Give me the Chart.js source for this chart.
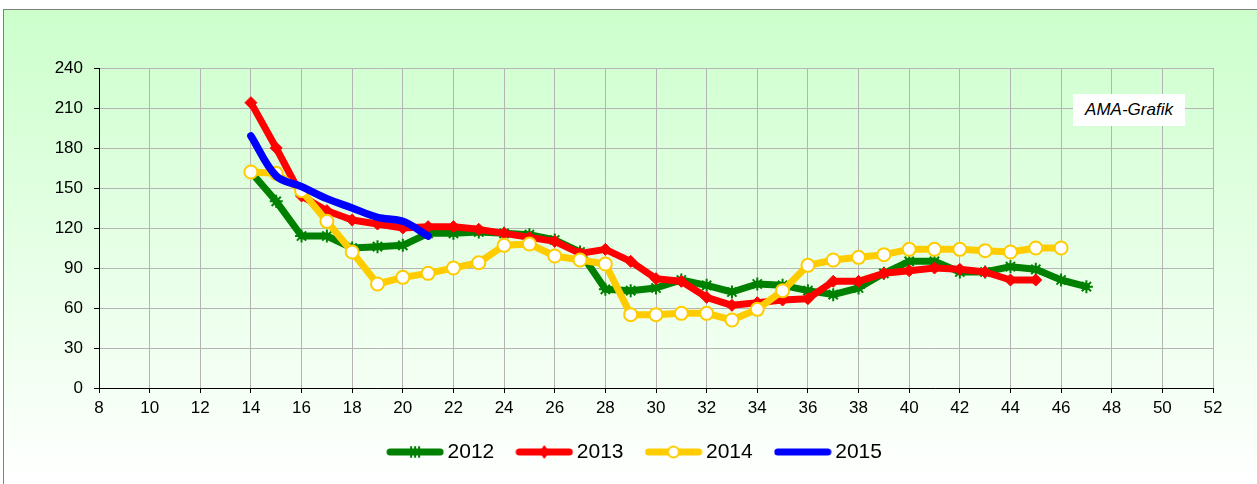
<!DOCTYPE html>
<html>
<head>
<meta charset="utf-8">
<script src="https://cdn.jsdelivr.net/npm/chart.js@4.4.1/dist/chart.umd.min.js"></script>
<style>
  html, body { margin: 0; padding: 0; background: #fff; }
  #wrap { position: relative; width: 1257px; height: 484px; }
  #ama {
    position: absolute; left: 1073px; top: 94px; width: 112px; height: 32px;
    background: #fff; font: italic 17px "Liberation Sans", Arial, sans-serif;
    line-height: 32px; text-align: center; color: #000;
  }
</style>
</head>
<body>
<div id="wrap">
  <canvas id="myChart"></canvas>
  <div id="ama">AMA-Grafik</div>
</div>
<script>
// calendar weeks (x) and prices per year
const weeks = [14, 15, 16, 17, 18, 19, 20, 21, 22, 23, 24, 25, 26, 27, 28, 29, 30,
               31, 32, 33, 34, 35, 36, 37, 38, 39, 40, 41, 42, 43, 44, 45, 46, 47];
const years = ['2012', '2013', '2014', '2015'];
const values2012 = [162, 140, 114, 114, 105, 106, 107, 116, 116, 117, 116, 115, 111, 102, 74, 73, 75,
                    81, 77, 72, 78, 77, 73, 70, 75, 86, 95, 95, 87, 87, 91, 89, 81, 76];
const values2013 = [214, 180, 144, 133, 126, 123, 120, 121, 121, 119, 116, 113, 110, 101, 104, 95, 82,
                    80, 68, 62, 64, 66, 67, 80, 80, 86, 88, 90, 89, 87, 81, 81];
const values2014 = [162, 161, 148, 125, 102, 78, 83, 86, 90, 94, 107, 108, 99, 96, 93, 55, 55,
                    56, 56, 51, 59, 73, 92, 96, 98, 100, 104, 104, 104, 103, 102, 105, 105];
const values2015 = [189, 159, 151, 142, 135, 128, 125, 114];
const yTicks = [0, 30, 60, 90, 120, 150, 180, 210, 240];
const xTicks = [8, 10, 12, 14, 16, 18, 20, 22, 24, 26, 28, 30, 32, 34, 36, 38, 40, 42, 44, 46, 48, 50, 52];

const green = '#008000', red = '#ff0000', yellow = '#ffcc00', blue = '#0000ff';

function points(vals) {
  return vals.map((v, i) => ({ x: weeks[i], y: v }));
}

// small legend icons: thick line with the series marker
function makeIcon(color, marker) {
  const c = document.createElement('canvas');
  c.width = 58; c.height = 16;
  const g = c.getContext('2d');
  g.strokeStyle = color; g.lineWidth = 7; g.lineCap = 'round';
  g.beginPath(); g.moveTo(4, 8); g.lineTo(54, 8); g.stroke();
  if (marker === 'star') {
    g.lineWidth = 2;
    g.beginPath();
    [-4, 0, 4].forEach(dx => { g.moveTo(29 + dx, 3); g.lineTo(29 + dx, 13); });
    g.stroke();
  } else if (marker === 'diamond') {
    g.fillStyle = color;
    g.beginPath(); g.moveTo(29, 1); g.lineTo(34, 8); g.lineTo(29, 15); g.lineTo(24, 8); g.closePath(); g.fill();
  } else if (marker === 'circle') {
    g.fillStyle = '#fff'; g.lineWidth = 2;
    g.beginPath(); g.arc(29, 8, 5.5, 0, Math.PI * 2); g.fill(); g.stroke();
  }
  return c;
}
const icons = [makeIcon(green, 'star'), makeIcon(red, 'diamond'), makeIcon(yellow, 'circle'), makeIcon(blue, null)];

const bgPlugin = {
  id: 'bg',
  beforeDraw(chart) {
    const ctx = chart.ctx;
    ctx.save();
    ctx.fillStyle = '#fff';
    ctx.fillRect(0, 0, chart.width, chart.height);
    const grad = ctx.createLinearGradient(0, 9, 0, chart.height);
    grad.addColorStop(0, '#ccffcc');
    grad.addColorStop(1, '#ffffff');
    ctx.fillStyle = grad;
    ctx.fillRect(3, 9, chart.width - 3, chart.height - 9);
    ctx.strokeStyle = '#808080';
    ctx.lineWidth = 1;
    ctx.strokeRect(3.5, 9.5, chart.width + 5, chart.height + 5);
    ctx.restore();
  },
  afterLayout(chart) {
    // nudge legend to its place under the plot
    chart.legend.left += 31;
    chart.legend.right += 31;
  }
};

const ctx = document.getElementById('myChart').getContext('2d');
const lineBase = { borderWidth: 7, borderCapStyle: 'round', borderJoinStyle: 'round', tension: 0, pointRadius: 6 };
const myChart = new Chart(ctx, {
  type: 'line',
  data: {
    datasets: [
      Object.assign({}, lineBase, {
        label: years[0], data: points(values2012), borderColor: green, backgroundColor: green,
        pointStyle: 'star', pointRadius: 6.5, pointBorderWidth: 2, pointBorderColor: green, order: 4
      }),
      Object.assign({}, lineBase, {
        label: years[1], data: points(values2013), borderColor: red, backgroundColor: red,
        pointStyle: 'rectRot', pointRadius: 6, pointBorderWidth: 1, pointBackgroundColor: red, order: 3
      }),
      Object.assign({}, lineBase, {
        label: years[2], data: points(values2014), borderColor: yellow, backgroundColor: '#fff',
        pointStyle: 'circle', pointRadius: 6.5, pointBorderWidth: 2, pointBackgroundColor: '#fff', order: 2
      }),
      Object.assign({}, lineBase, {
        label: years[3], data: points(values2015), borderColor: blue, backgroundColor: blue,
        borderWidth: 7.5, pointRadius: 0, tension: 0.35, cubicInterpolationMode: 'default', order: 1
      })
    ]
  },
  options: {
    responsive: true,
    maintainAspectRatio: false,
    animation: false,
    layout: { padding: { top: 68, right: 44, bottom: 11.5, left: 0 } },
    scales: {
      x: {
        type: 'linear', min: 8, max: 52,
        afterBuildTicks: s => { s.ticks = xTicks.map(v => ({ value: v })); },
        afterFit: s => { s.height = 25.5; },
        ticks: { color: '#000', padding: 5, font: { family: 'Liberation Sans, Arial', size: 17 } },
        grid: { color: '#b4b4b4', tickColor: '#000', tickLength: 5 },
        border: { color: '#000', width: 1 }
      },
      y: {
        min: 0, max: 240,
        afterBuildTicks: s => { s.ticks = yTicks.map(v => ({ value: v })); },
        afterFit: s => { s.width = 99; },
        ticks: { color: '#000', padding: 11, font: { family: 'Liberation Sans, Arial', size: 17 } },
        grid: { color: '#b4b4b4', tickColor: '#000', tickLength: 5 },
        border: { color: '#000', width: 1 }
      }
    },
    plugins: {
      tooltip: { enabled: false },
      legend: {
        position: 'bottom',
        labels: {
          usePointStyle: true,
          pointStyleWidth: 44,
          padding: 28,
          color: '#000',
          font: { family: 'Liberation Sans, Arial', size: 21 },
          sort: (a, b) => a.datasetIndex - b.datasetIndex,
          generateLabels(chart) {
            const items = Chart.defaults.plugins.legend.labels.generateLabels(chart);
            items.forEach(it => { it.pointStyle = icons[it.datasetIndex]; });
            return items;
          }
        }
      }
    }
  },
  plugins: [bgPlugin]
});
</script>
</body>
</html>
